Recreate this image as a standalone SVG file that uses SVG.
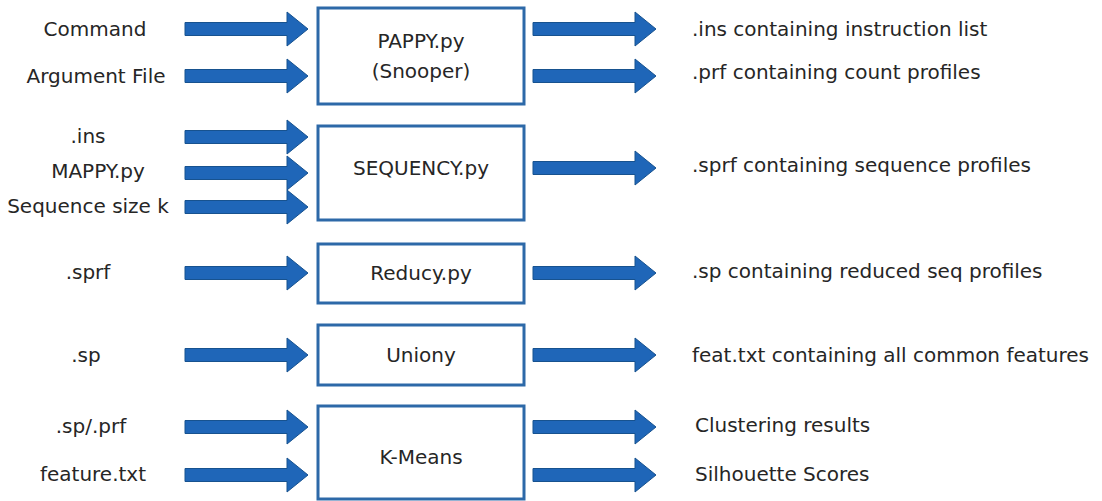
<svg xmlns="http://www.w3.org/2000/svg" width="1102" height="501" viewBox="0 0 1102 501">
<style>
text{font-family:"DejaVu Sans","Liberation Sans",sans-serif;font-size:20px;fill:#262626}
.c{text-anchor:middle}
.box{fill:#fff;stroke:#2d69a8;stroke-width:3}
.arr{fill:#1f66b8;stroke:#17528f;stroke-width:1}
</style>
<defs>
<path id="arrow" d="M0,-6.5 H102 V-17 L123,0 L102,17 V6.5 H0 Z"/>
</defs>
<rect width="1102" height="501" fill="#fff"/>
<g id="connectors" class="arr">
<use href="#arrow" x="185" y="29"/>
<use href="#arrow" x="185" y="76"/>
<use href="#arrow" x="533" y="29"/>
<use href="#arrow" x="533" y="76"/>
<use href="#arrow" x="185" y="137"/>
<use href="#arrow" x="185" y="173"/>
<use href="#arrow" x="185" y="207"/>
<use href="#arrow" x="533" y="168"/>
<use href="#arrow" x="185" y="273"/>
<use href="#arrow" x="533" y="273"/>
<use href="#arrow" x="185" y="355"/>
<use href="#arrow" x="533" y="355"/>
<use href="#arrow" x="185" y="427"/>
<use href="#arrow" x="185" y="475"/>
<use href="#arrow" x="533" y="427"/>
<use href="#arrow" x="533" y="475"/>
</g>
<g id="inputs">
<text class="c" x="95" y="36">Command</text>
<text class="c" x="96" y="83">Argument File</text>
<text class="c" x="88" y="143">.ins</text>
<text class="c" x="98" y="178">MAPPY.py</text>
<text class="c" x="88" y="213">Sequence size k</text>
<text class="c" x="88" y="279">.sprf</text>
<text class="c" x="86" y="362">.sp</text>
<text class="c" x="91" y="433">.sp/.prf</text>
<text class="c" x="93" y="481">feature.txt</text>
</g>
<g id="pappy"><rect class="box" x="318" y="8" width="206" height="96"/>
<text class="c" x="421" y="48">PAPPY.py</text><text class="c" x="421" y="78">(Snooper)</text></g>
<g id="sequency"><rect class="box" x="318" y="126" width="206" height="94"/>
<text class="c" x="421" y="175">SEQUENCY.py</text></g>
<g id="reducy"><rect class="box" x="318" y="244" width="206" height="59"/>
<text class="c" x="421" y="280">Reducy.py</text></g>
<g id="uniony"><rect class="box" x="318" y="325" width="206" height="60"/>
<text class="c" x="421" y="362">Uniony</text></g>
<g id="kmeans"><rect class="box" x="318" y="406" width="206" height="93"/>
<text class="c" x="421" y="464">K-Means</text></g>
<g id="outputs">
<text x="692" y="36">.ins containing instruction list</text>
<text x="692" y="79">.prf containing count profiles</text>
<text x="692" y="172">.sprf containing sequence profiles</text>
<text x="692" y="278">.sp containing reduced seq profiles</text>
<text x="692" y="362">feat.txt containing all common features</text>
<text x="695" y="432">Clustering results</text>
<text x="695" y="481">Silhouette Scores</text>
</g>
</svg>
